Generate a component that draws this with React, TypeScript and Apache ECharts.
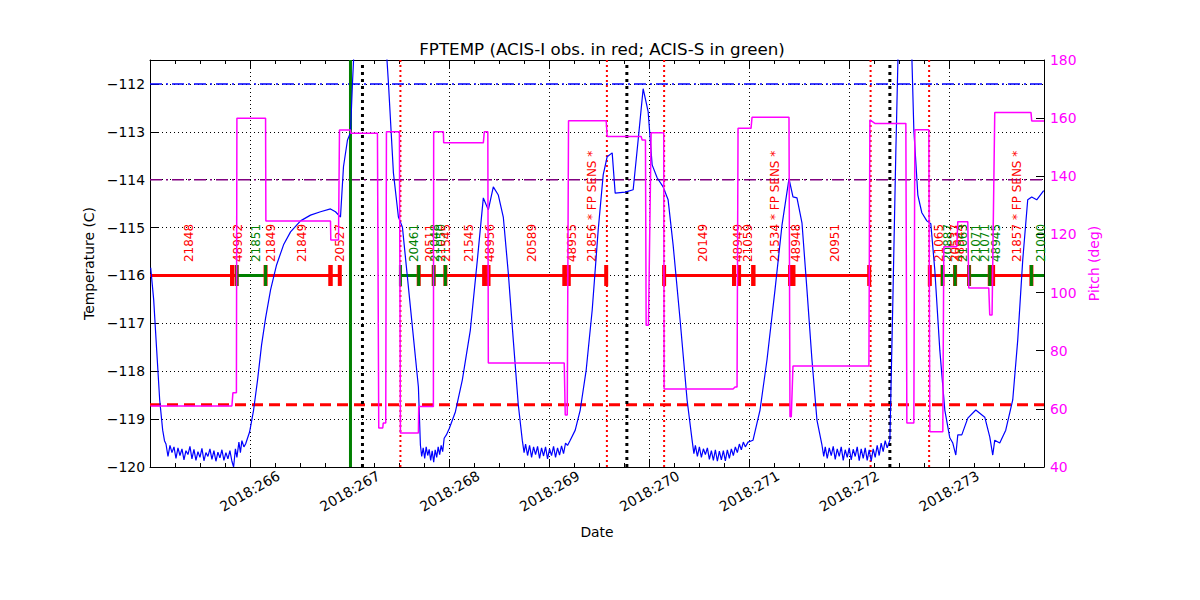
import React, { useEffect, useRef } from "react";
import * as echarts from "echarts";

// ---- axis ranges ----
const X_MIN = 265;
const X_MAX = 273.95;
const T_MIN = -120;
const T_MAX = -111.5;
const P_MIN = 40;
const P_MAX = 180;

// ---- FPTEMP: [day of year 2018, deg C] ----
const fptemp = [
  [265.007, -115.84], [265.037, -116.51], [265.067, -117.56], [265.097, -118.6], [265.127, -119.23], [265.145, -119.45],
  [265.16, -119.52], [265.18, -119.78], [265.2, -119.55], [265.22, -119.7], [265.24, -119.58], [265.26, -119.82],
  [265.28, -119.6], [265.3, -119.76], [265.32, -119.62], [265.34, -119.85], [265.36, -119.66], [265.38, -119.74],
  [265.4, -119.57], [265.42, -119.83], [265.44, -119.63], [265.46, -119.86], [265.48, -119.68], [265.5, -119.8],
  [265.52, -119.61], [265.54, -119.87], [265.56, -119.7], [265.58, -119.78], [265.6, -119.62], [265.62, -119.84],
  [265.64, -119.66], [265.66, -119.88], [265.68, -119.69], [265.7, -119.81], [265.72, -119.64], [265.74, -119.86],
  [265.76, -119.7], [265.78, -119.83], [265.8, -119.66], [265.82, -119.88], [265.837, -120.0], [265.855, -119.62],
  [265.87, -119.8], [265.89, -119.48], [265.905, -119.7], [265.92, -119.45], [265.94, -119.58], [265.957, -119.52],
  [265.997, -119.27], [266.037, -118.81], [266.077, -118.18], [266.117, -117.45], [266.157, -116.89], [266.207, -116.3],
  [266.267, -115.78], [266.337, -115.36], [266.407, -115.09], [266.507, -114.86], [266.607, -114.74], [266.707, -114.67],
  [266.807, -114.61], [266.857, -114.67], [266.907, -114.78], [266.937, -113.73], [266.977, -113.17], [267.007, -113.02],
  [267.027, -111.98], [267.057, -110.66], [267.2, -109.0], [267.347, -110.66], [267.387, -111.98], [267.437, -113.86],
  [267.487, -114.78], [267.527, -114.99], [267.607, -116.66], [267.687, -118.33],
  [267.707, -119.54], [267.72, -119.78], [267.735, -119.6], [267.75, -119.82], [267.765, -119.58], [267.78, -119.76],
  [267.795, -119.63], [267.81, -119.86], [267.825, -119.66], [267.84, -119.9], [267.855, -119.64], [267.87, -119.8],
  [267.885, -119.58], [267.9, -119.74], [267.915, -119.55], [267.93, -119.68], [267.945, -119.4],
  [267.967, -119.33], [267.997, -119.19], [268.057, -118.85], [268.127, -118.18], [268.207, -117.14], [268.277, -115.68],
  [268.337, -114.38], [268.387, -114.63], [268.437, -114.15], [268.487, -114.32], [268.537, -114.78], [268.587, -115.95],
  [268.637, -117.35], [268.687, -118.7],
  [268.727, -119.44], [268.745, -119.7], [268.76, -119.52], [268.78, -119.76], [268.8, -119.55], [268.82, -119.8],
  [268.84, -119.58], [268.86, -119.74], [268.88, -119.57], [268.9, -119.82], [268.92, -119.6], [268.94, -119.77],
  [268.96, -119.58], [268.98, -119.83], [269.0, -119.62], [269.02, -119.76], [269.04, -119.57], [269.06, -119.8],
  [269.08, -119.6], [269.1, -119.75], [269.12, -119.56], [269.14, -119.72], [269.16, -119.5], [269.18, -119.55],
  [269.207, -119.44], [269.257, -119.23], [269.307, -118.81], [269.367, -117.97], [269.427, -116.72], [269.487, -115.05],
  [269.537, -113.9], [269.577, -113.52], [269.627, -113.44], [269.657, -114.28], [269.757, -114.26], [269.837, -114.21],
  [269.887, -113.17], [269.937, -112.1], [269.987, -112.58], [270.027, -113.69], [270.077, -113.96], [270.137, -114.15],
  [270.187, -114.42], [270.237, -115.36], [270.307, -116.93], [270.377, -118.6],
  [270.427, -119.44], [270.445, -119.72], [270.46, -119.55], [270.48, -119.78], [270.5, -119.58], [270.52, -119.8],
  [270.54, -119.62], [270.56, -119.74], [270.58, -119.6], [270.6, -119.84], [270.62, -119.66], [270.64, -119.86],
  [270.66, -119.64], [270.68, -119.88], [270.7, -119.67], [270.72, -119.85], [270.74, -119.66], [270.76, -119.87],
  [270.78, -119.64], [270.8, -119.82], [270.82, -119.62], [270.84, -119.76], [270.86, -119.58], [270.88, -119.7],
  [270.9, -119.52], [270.92, -119.64], [270.94, -119.48], [270.96, -119.58], [270.987, -119.48],
  [271.037, -119.44], [271.107, -118.81], [271.177, -117.76], [271.257, -116.3], [271.327, -114.95], [271.397, -113.98],
  [271.437, -114.36], [271.477, -114.38], [271.527, -114.9], [271.577, -116.3], [271.627, -117.76], [271.677, -119.02],
  [271.727, -119.54], [271.745, -119.78], [271.76, -119.58], [271.78, -119.82], [271.8, -119.6], [271.82, -119.76],
  [271.84, -119.57], [271.86, -119.84], [271.88, -119.62], [271.9, -119.78], [271.92, -119.58], [271.94, -119.86],
  [271.96, -119.64], [271.98, -119.8], [272.0, -119.6], [272.02, -119.85], [272.04, -119.63], [272.06, -119.78],
  [272.08, -119.58], [272.1, -119.87], [272.12, -119.62], [272.14, -119.82], [272.16, -119.6], [272.18, -119.86],
  [272.2, -119.64], [272.22, -119.88], [272.24, -119.62], [272.26, -119.8], [272.28, -119.55], [272.3, -119.76],
  [272.32, -119.5], [272.34, -119.68], [272.36, -119.45], [272.38, -119.6], [272.407, -119.44],
  [272.437, -116.51], [272.467, -113.38], [272.497, -110.66], [272.557, -109.2], [272.617, -110.66], [272.647, -112.96],
  [272.687, -114.32], [272.727, -114.69], [272.777, -114.86], [272.817, -114.92], [272.857, -115.89], [272.907, -117.56],
  [272.957, -118.81], [273.007, -119.39], [273.037, -119.5], [273.067, -119.75], [273.087, -119.33], [273.127, -119.33],
  [273.187, -118.98], [273.267, -118.81], [273.357, -118.96], [273.407, -119.37], [273.437, -119.75], [273.457, -119.44],
  [273.507, -119.5], [273.567, -119.23], [273.637, -118.6], [273.687, -117.35], [273.737, -115.68], [273.787, -114.42],
  [273.827, -114.36], [273.877, -114.42], [273.947, -114.23],
];

// ---- Pitch (deg) ----
const pitchTimes = [
  265.007, 265.82, 265.83, 265.865, 265.87, 266.157, 266.16, 266.807, 266.81, 266.887,
  266.897, 267.007, 267.01, 267.277, 267.29, 267.33, 267.335, 267.36, 267.367, 267.497,
  267.507, 267.687, 267.69, 267.837, 267.84, 267.937, 267.94, 268.337, 268.347, 268.382,
  268.387, 269.147, 269.157, 269.177, 269.19, 269.567, 269.577, 269.917, 269.927, 269.96,
  269.967, 269.99, 270.017, 270.143, 270.147, 270.837, 270.857, 270.877, 270.887, 271.017,
  271.027, 271.397, 271.407, 271.42, 271.437, 272.197, 272.207, 272.257, 272.567, 272.577,
  272.647, 272.657, 272.797, 272.807, 272.937, 272.947, 273.077, 273.087, 273.187, 273.197,
  273.397, 273.407, 273.43, 273.457, 273.82, 273.827, 273.95,
];
const pitchVals = [
  61.0, 61.0, 65.5, 65.5, 160.0, 160.0, 124.6, 124.6, 118.1, 118.1,
  155.9, 155.9, 154.8, 154.8, 53.4, 53.4, 55.1, 55.1, 155.3, 155.3,
  51.7, 51.7, 60.8, 60.8, 155.3, 155.3, 151.5, 151.5, 155.3, 155.3,
  75.8, 75.8, 57.9, 57.9, 159.1, 159.1, 153.7, 153.7, 152.5, 152.5,
  88.8, 88.8, 155.0, 155.0, 66.8, 66.8, 67.5, 67.5, 156.5, 156.5,
  160.3, 160.3, 57.3, 57.3, 74.7, 74.7, 159.4, 158.2, 158.2, 55.1,
  55.1, 156.0, 156.0, 52.1, 52.1, 115.8, 115.8, 124.4, 124.4, 101.6,
  101.6, 92.3, 92.3, 161.9, 161.9, 159.0, 159.0,
];

// ---- observations (I = ACIS-I, S = ACIS-S) ----
const segStarts = [
  265.0, 265.822, 265.87, 266.157, 266.807, 267.507, 267.69, 267.84, 267.957, 268.347,
  268.387, 269.15, 269.19, 270.147, 270.847, 270.897, 271.04, 271.407, 271.44, 272.807,
  272.934, 273.06, 273.2, 273.407, 273.44, 273.824,
];
const segEnds = [
  265.822, 265.867, 266.157, 266.807, 266.9, 267.69, 267.84, 267.957, 268.347, 268.387,
  269.15, 269.19, 269.567, 270.847, 270.897, 271.04, 271.407, 271.44, 272.2, 272.934,
  273.06, 273.2, 273.407, 273.44, 273.824, 273.95,
];
const segInstr = [
  "I", "I", "S", "I", "I", "S", "I", "S", "I", "I",
  "I", "I", "I", "I", "I", "I", "I", "I", "I", "I",
  "S", "I", "S", "I", "I", "S",
];

const obsLabels = [
  "21848", "48962", "21851", "21849", "21849", "20527", "20461", "20511", "21048", "21050",
  "21545", "21545", "48956", "20589", "48955", "21856 * FP SENS *", "20149", "48949", "21059",
  "21534 * FP SENS *", "48948", "20951", "21065", "20887", "20537", "48944", "21063", "21071",
  "21071", "48945", "21857 * FP SENS *", "21000",
];
const obsLabelTimes = [
  265.39, 265.88, 266.057, 266.214, 266.524, 266.9, 267.64, 267.8, 267.857, 267.912,
  267.967, 268.197, 268.407, 268.824, 269.224, 269.424, 270.54, 270.89, 270.99,
  271.257, 271.464, 271.857, 272.9, 272.99, 273.057, 273.107, 273.142, 273.267,
  273.357, 273.467, 273.68, 273.924,
];
const obsLabelInstr = [
  "I", "I", "S", "I", "I", "I", "S", "I", "S", "S",
  "I", "I", "I", "I", "I", "I", "I", "I", "I",
  "I", "I", "I", "I", "S", "I", "I", "S", "S",
  "S", "S", "I", "S",
];

// ---- reference levels / events ----
const limitBlue = -112;
const limitPurple = -114;
const limitRed = -118.7;
const greenEventTimes = [267.007];
const blackEventTimes = [267.127, 269.774, 272.407];
const redEventTimes = [267.507, 269.574, 270.147, 272.214, 272.8];

const BAR_Y = -116;
const LABEL_Y = -115.72;

const FONT = "DejaVu Sans";
const RED = "#ff0000";
const GREEN = "#008000";
const instrColor = (s: string) => (s === "I" ? RED : GREEN);

export default function App() {
  const ref = useRef<HTMLDivElement>(null);
  useEffect(() => {
    if (!ref.current) return;
    const chart = echarts.init(ref.current, undefined, { renderer: "svg" });

    const hline = (v: number, color: string, type: any, width: number) => ({
      type: "line",
      data: [
        [X_MIN, v],
        [X_MAX, v],
      ],
      symbol: "none",
      silent: true,
      lineStyle: { color, type, width },
      z: 2,
    });
    const vline = (t: number, color: string, type: any, width: number) => ({
      type: "line",
      data: [
        [t, T_MIN],
        [t, T_MAX],
      ],
      symbol: "none",
      silent: true,
      lineStyle: { color, type, width },
      z: 2,
    });

    const markers = (instr: string) => {
      const pts: number[][] = [];
      segStarts.forEach((s, i) => {
        if (segInstr[i] !== instr) return;
        if (s > X_MIN + 0.001) pts.push([s, BAR_Y]);
        if (segEnds[i] < X_MAX - 0.001) pts.push([segEnds[i], BAR_Y]);
      });
      return pts;
    };

    const series: any[] = [
      hline(limitBlue, "#0000ff", [12, 4, 2, 4], 1.5),
      hline(limitPurple, "#800080", [12, 4, 2, 4], 1.5),
      hline(limitRed, RED, [11, 6], 3),
      ...greenEventTimes.map((t) => vline(t, GREEN, "solid", 3)),
      ...blackEventTimes.map((t) => vline(t, "#000000", [3, 4], 3)),
      ...redEventTimes.map((t) => vline(t, RED, [2, 3], 2)),
      {
        type: "lines",
        coordinateSystem: "cartesian2d",
        silent: true,
        z: 3,
        lineStyle: { width: 3, opacity: 1 },
        data: segStarts.map((s, i) => ({
          coords: [
            [s, BAR_Y],
            [segEnds[i], BAR_Y],
          ],
          lineStyle: { color: instrColor(segInstr[i]), width: 3, opacity: 1 },
        })),
      },
      {
        type: "scatter",
        symbol: "rect",
        symbolSize: [4, 21],
        itemStyle: { color: RED, opacity: 1 },
        data: markers("I"),
        silent: true,
        z: 4,
      },
      {
        type: "scatter",
        symbol: "rect",
        symbolSize: [3, 21],
        itemStyle: { color: GREEN, opacity: 1 },
        data: markers("S"),
        silent: true,
        z: 4,
      },
      {
        type: "scatter",
        symbolSize: 0,
        silent: true,
        z: 5,
        data: obsLabelTimes.map((t, i) => ({
          value: [t, LABEL_Y],
          name: obsLabels[i],
          label: { color: instrColor(obsLabelInstr[i]) },
        })),
        label: {
          show: true,
          formatter: "{b}",
          position: "inside",
          rotate: 90,
          align: "left",
          verticalAlign: "middle",
          fontSize: 12,
          fontFamily: FONT,
          textBorderWidth: 0,
          textBorderColor: "transparent",
          opacity: 1,
        },
      },
      {
        type: "line",
        data: fptemp,
        symbol: "none",
        lineStyle: { color: "#0000ff", width: 1.2 },
        clip: true,
        silent: true,
        z: 6,
      },
      {
        type: "line",
        yAxisIndex: 1,
        data: pitchTimes.map((t, i) => [t, pitchVals[i]]),
        symbol: "none",
        lineStyle: { color: "#ff00ff", width: 1.5 },
        clip: true,
        silent: true,
        z: 7,
      },
    ];

    const isInt = (v: number) => Math.abs(v - Math.round(v)) < 1e-6;

    chart.setOption({
      animation: false,
      textStyle: { fontFamily: FONT },
      title: {
        text: "FPTEMP (ACIS-I obs. in red; ACIS-S in green)",
        left: 597,
        top: 35,
        textAlign: "center",
        textStyle: { fontSize: 16.7, fontWeight: "normal", color: "#000", fontFamily: FONT },
      },
      grid: { left: 150, top: 60, width: 894, height: 407, containLabel: false },
      xAxis: [
        {
          type: "value",
          position: "bottom",
          min: X_MIN,
          max: X_MAX,
          interval: 1,
          axisLine: { show: true, onZero: false, lineStyle: { color: "#000", width: 1 } },
          axisTick: { show: true, inside: true, length: 8, lineStyle: { color: "#000" } },
          minorTick: { show: true, splitNumber: 4, length: 4, lineStyle: { color: "#000" } },
          axisLabel: {
            formatter: (v: number) => (isInt(v) && v > X_MIN + 0.5 ? "2018:" + Math.round(v) : ""),
            rotate: 30,
            align: "center",
            verticalAlign: "middle",
            margin: 24,
            fontSize: 13.9,
            color: "#000",
            fontFamily: FONT,
          },
          splitLine: { show: true, lineStyle: { color: "#000", type: [1, 3], width: 1 } },
          name: "Date",
          nameLocation: "middle",
          nameGap: 58,
          nameTextStyle: { fontSize: 13.9, color: "#000", fontFamily: FONT },
        },
        {
          type: "value",
          position: "top",
          min: X_MIN,
          max: X_MAX,
          interval: 1,
          axisLine: { show: true, onZero: false, lineStyle: { color: "#000", width: 1 } },
          axisTick: { show: true, inside: true, length: 8, lineStyle: { color: "#000" } },
          minorTick: { show: true, splitNumber: 4, length: 4, lineStyle: { color: "#000" } },
          axisLabel: { show: false },
          splitLine: { show: false },
        },
      ],
      yAxis: [
        {
          type: "value",
          position: "left",
          min: T_MIN,
          max: T_MAX,
          interval: 1,
          axisLine: { show: true, onZero: false, lineStyle: { color: "#000", width: 1 } },
          axisTick: { show: true, inside: true, length: 8, lineStyle: { color: "#000" } },
          axisLabel: {
            formatter: (v: number) => (isInt(v) ? "\u2212" + Math.abs(Math.round(v)) : ""),
            fontSize: 13.9,
            color: "#000",
            margin: 5,
            fontFamily: FONT,
          },
          splitLine: { show: true, lineStyle: { color: "#000", type: [1, 3], width: 1 } },
          name: "Temperature (C)",
          nameLocation: "middle",
          nameRotate: 90,
          nameGap: 45,
          nameTextStyle: { fontSize: 13.9, color: "#000", fontFamily: FONT },
        },
        {
          type: "value",
          position: "right",
          min: P_MIN,
          max: P_MAX,
          interval: 20,
          axisLine: { show: true, onZero: false, lineStyle: { color: "#000", width: 1 } },
          axisTick: { show: true, inside: true, length: 8, lineStyle: { color: "#000" } },
          axisLabel: { fontSize: 13.9, color: "#ff00ff", margin: 6, fontFamily: FONT },
          splitLine: { show: false },
          name: "Pitch (deg)",
          nameLocation: "middle",
          nameRotate: 90,
          nameGap: 32,
          nameTextStyle: { fontSize: 13.9, color: "#ff00ff", fontFamily: FONT },
        },
      ],
      series,
    });
    return () => chart.dispose();
  }, []);

  return (
    <div
      ref={ref}
      style={{ position: "absolute", left: 0, top: 0, width: 1200, height: 600, background: "#fff" }}
    />
  );
}
